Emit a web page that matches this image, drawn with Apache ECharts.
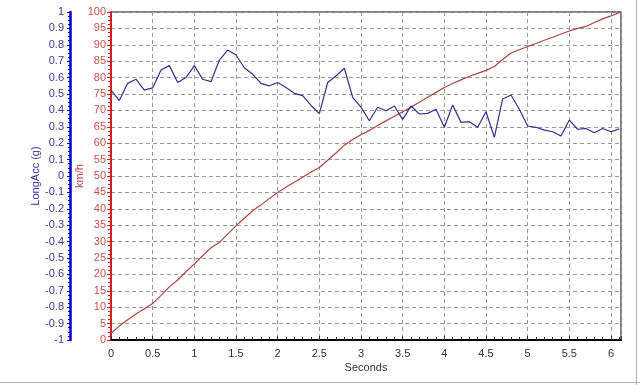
<!DOCTYPE html>
<html><head><meta charset="utf-8">
<script src="https://cdn.jsdelivr.net/npm/echarts@6/dist/echarts.min.js"></script>
<style>html,body{margin:0;padding:0;background:#fff}#c{width:640px;height:385px}</style>
</head><body><div id="c"></div>
<script>
// time samples (s)
const seconds = [0,0.1,0.2,0.3,0.4,0.5,0.6,0.7,0.8,0.9,1.0,1.1,1.2,1.3,1.4,1.5,1.6,1.7,1.8,1.9,2.0,2.1,2.2,2.3,2.4,2.5,2.6,2.7,2.8,2.9,3.0,3.1,3.2,3.3,3.4,3.5,3.6,3.7,3.8,3.9,4.0,4.1,4.2,4.3,4.4,4.5,4.6,4.7,4.8,4.9,5.0,5.1,5.2,5.3,5.4,5.5,5.6,5.7,5.8,5.9,6.0,6.1];
// longitudinal acceleration (g)
const longAcc = [0.524,0.46,0.565,0.59,0.524,0.537,0.646,0.673,0.57,0.60,0.673,0.59,0.575,0.707,0.768,0.738,0.66,0.62,0.565,0.55,0.57,0.54,0.504,0.49,0.43,0.38,0.57,0.61,0.657,0.48,0.42,0.337,0.419,0.398,0.427,0.345,0.427,0.378,0.382,0.407,0.297,0.433,0.327,0.331,0.297,0.392,0.236,0.47,0.494,0.407,0.305,0.297,0.28,0.27,0.244,0.341,0.285,0.29,0.264,0.29,0.27,0.287];
// speed (km/h)
const speed = [2.0,4.3,6.2,7.9,9.5,11.1,13.6,16.2,18.3,20.8,23.2,25.7,28.1,29.7,32.3,34.8,37.1,39.4,41.2,43.1,45.0,46.6,48.1,49.6,51.2,52.6,54.8,57.0,59.4,61.1,62.6,63.9,65.4,66.8,68.2,69.6,71.0,72.5,74.0,75.5,77.0,78.2,79.3,80.4,81.3,82.2,83.4,85.5,87.5,88.5,89.5,90.4,91.4,92.3,93.3,94.2,95.0,95.6,96.8,97.9,98.8,99.8];

const accPts = seconds.map((t,i)=>[t,longAcc[i]]);
const spdPts = seconds.map((t,i)=>[t,speed[i]]);

const F = 'Liberation Sans, Arial, sans-serif';
const chart = echarts.init(document.getElementById('c'), null, {renderer:'canvas'});
chart.setOption({
  animation:false,
  backgroundColor:'#fff',
  grid:{left:111,top:12,right:19,bottom:45,show:true,borderColor:'#555',borderWidth:1.5,backgroundColor:'transparent'},
  graphic:[
    {type:'line',shape:{x1:0,y1:382.5,x2:640,y2:382.5},style:{stroke:'#b0b0b0',lineWidth:1}},
    {type:'line',shape:{x1:636.5,y1:0,x2:636.5,y2:385},style:{stroke:'#b0b0b0',lineWidth:1}}
  ],
  xAxis:{type:'value',min:0,max:6.12,interval:0.5,
    name:'Seconds',nameLocation:'middle',nameGap:22,nameMoveOverlap:false,
    nameTextStyle:{fontFamily:F,fontSize:11,color:'#333'},
    axisLine:{onZero:false,lineStyle:{color:'#000',width:2}},
    axisTick:{show:true,inside:true,length:4,lineStyle:{color:'#333'}},
    minorTick:{show:true,splitNumber:5,length:3,lineStyle:{color:'#333'}},
    axisLabel:{showMaxLabel:false,fontFamily:F,fontSize:11,color:'#333',margin:8},
    splitLine:{show:true,lineStyle:{color:'#999',type:[4,3],width:1}}
  },
  yAxis:[
    {type:'value',min:-1,max:1,interval:0.1,position:'left',offset:41,
      name:'LongAcc (g)',nameLocation:'middle',nameGap:29,nameMoveOverlap:false,
      nameTextStyle:{fontFamily:F,fontSize:11,color:'#33339a'},
      axisLine:{show:true,onZero:false,lineStyle:{color:'#0000cc',width:2.5}},
      axisTick:{show:true,length:3,lineStyle:{color:'#0000cc'}},
      minorTick:{show:true,splitNumber:4,length:2,lineStyle:{color:'#0000cc'}},
      axisLabel:{fontFamily:F,fontSize:11,color:'#3a3a8c',margin:6,
        formatter:v=>String(Math.round(v*10)/10)},
      splitLine:{show:false}
    },
    {type:'value',min:0,max:100,interval:5,position:'left',offset:0,
      name:'km/h',nameLocation:'middle',nameGap:26,nameMoveOverlap:false,
      nameTextStyle:{fontFamily:F,fontSize:11,color:'#c0403a'},
      axisLine:{show:true,onZero:false,lineStyle:{color:'#cc2222',width:2}},
      axisTick:{show:true,length:4,lineStyle:{color:'#cc2222'}},
      minorTick:{show:true,splitNumber:4,length:3,lineStyle:{color:'#cc2222'}},
      axisLabel:{fontFamily:F,fontSize:11,color:'#c8504a',margin:5},
      splitLine:{show:true,lineStyle:{color:'#999',type:[4,3],width:1}}
    }
  ],
  series:[
    {type:'line',yAxisIndex:1,data:spdPts,showSymbol:false,lineStyle:{color:'#a8483c',width:1.2}},
    {type:'line',yAxisIndex:0,data:accPts,showSymbol:false,lineStyle:{color:'#2e3388',width:1.2}}
  ]
});
</script></body></html>
